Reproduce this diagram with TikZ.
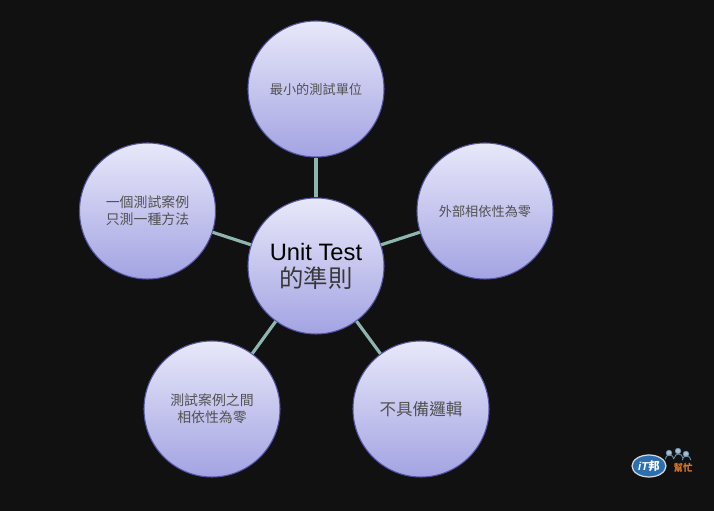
\documentclass[tikz,border=0pt]{standalone}
\usepackage{fontspec}
\setmainfont{Liberation Sans}
\newfontfamily\cjk{Noto Sans CJK TC}
\usetikzlibrary{shapes.geometric}
\definecolor{pagebg}{HTML}{111111}
\definecolor{spoke}{HTML}{8FB5AF}
\definecolor{ballrim}{HTML}{5555A8}
\definecolor{balltop}{HTML}{E8E8FA}
\definecolor{ballmid}{HTML}{C9C9EF}
\definecolor{ballend}{HTML}{A3A3E3}
\definecolor{itblue}{HTML}{2C6FB0}
\definecolor{itorange}{HTML}{D9782A}
\definecolor{itpeople}{HTML}{6F93AE}

\begin{document}
\begin{tikzpicture}[node distance=1.5cm]
	\tikzstyle{ball} = [draw=ballrim, line width=0.6pt, circle, minimum size=2.72cm, inner sep=0pt, align=center,
		top color=balltop, middle color=ballmid, bottom color=ballend, text=black!68, font=\cjk\fontsize{7.5}{9.6}\selectfont]
	\tikzstyle{twoline} = [font=\cjk\fontsize{7.9}{9.6}\selectfont]
	\tikzstyle{person} = [circle, draw=itpeople, fill=itpeople!60!white, line width=0.4pt, minimum size=0.11cm, inner sep=0pt]
	\useasboundingbox[fill=pagebg] (0,0) rectangle (14.28,10.22);

	% five balls round the middle one
	\path[spoke, line width=1.8pt]
	node[ball, font=\fontsize{13.5}{15.4}\selectfont, yshift=0.02cm] (hub) at (6.32,4.88) {\textcolor{black}{Unit Test}\\{\cjk\fontsize{13.9}{15.4}\selectfont\textcolor{black!78}{的準則}}}
	node[ball, above of=hub, node distance=3.54cm] (smallest) {最小的測試單位}
	node[ball, right of=hub, node distance=3.38cm, yshift=1.1cm] (external) {外部相依性為零}
	node[ball, below of=hub, node distance=2.86cm, xshift=2.1cm] (nologic) {\fontsize{9.4}{11}\selectfont 不具備邏輯}
	node[ball, twoline, below of=hub, node distance=2.86cm, xshift=-2.08cm] (between) {測試案例之間\\相依性為零}
	node[ball, twoline, left of=hub, node distance=3.37cm, yshift=1.1cm] (onecase) {一個測試案例\\只測一種方法}
	(hub) edge (smallest)
	(hub) edge (external)
	(hub) edge (nologic)
	(hub) edge (between)
	(hub) edge (onecase)
	;

	% site logo in the corner
	\node[ellipse, draw=white!85!black, line width=0.7pt, fill=itblue, text=white, minimum width=0.68cm, minimum height=0.44cm, inner sep=0pt,
		font=\bfseries\itshape\fontsize{6.5}{6.5}\selectfont] (logo) at (12.98,0.9) {iT{\cjk 邦}};
	\node[right of=logo, node distance=0.68cm, yshift=-0.04cm, text=itorange, inner sep=0pt, font=\cjk\bfseries\fontsize{5.4}{6}\selectfont] (help) {幫忙};
	\node[person] (heada) at (13.38,1.16) {};
	\node[person] (headb) at (13.56,1.2) {};
	\node[person] (headc) at (13.72,1.14) {};
	\draw[itpeople, line width=0.5pt] (heada.south west) ++(-0.03,-0.08) arc (180:0:0.085);
	\draw[itpeople, line width=0.5pt] (headb.south west) ++(-0.03,-0.1) arc (180:0:0.085);
	\draw[itpeople, line width=0.5pt] (headc.south west) ++(-0.03,-0.08) arc (180:0:0.085);
\end{tikzpicture}
\end{document}
